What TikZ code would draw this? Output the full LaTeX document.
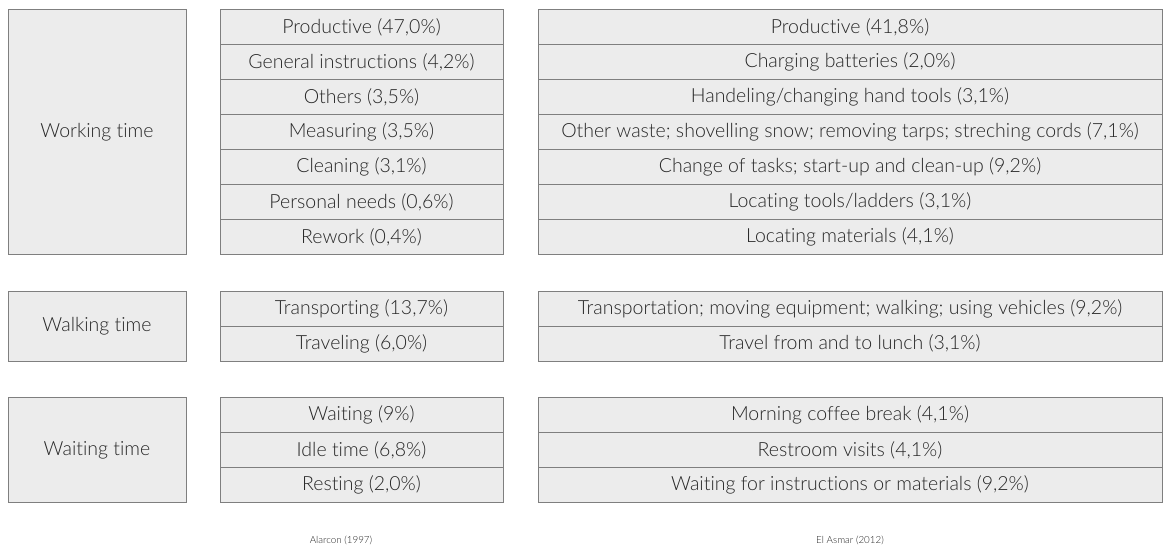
\documentclass[tikz,border=0pt]{standalone}
\usepackage{fontspec}
\setmainfont{Lato}[UprightFont=* Light, Ligatures=NoCommon]
\definecolor{cellgray}{HTML}{ECECEC}
\definecolor{bordergray}{HTML}{7F7F7F}
\definecolor{textgray}{HTML}{262626}
\tikzset{
  cell/.style={draw=bordergray, fill=cellgray, line width=0.9pt, inner sep=0pt,
    font=\fontsize{19.5}{22}\selectfont, text=textgray},
  midcell/.style={cell, minimum width=283pt, minimum height=35pt},
  rightcell/.style={cell, minimum width=624pt, minimum height=35pt},
  leftcell/.style={cell, minimum width=178pt},
  caption/.style={font=\fontsize{9.8}{12}\selectfont, text=textgray}
}
\begin{document}
\begin{tikzpicture}[x=1pt,y=-1pt]
\useasboundingbox (0,0) rectangle (1164,558);
% left group boxes
\node[leftcell, minimum height=245pt] (work) at (97,132) {Working time};
\node[leftcell, minimum height=70pt] (walk) at (97,326) {Walking time};
\node[leftcell, minimum height=105pt] (wait) at (97,450) {Waiting time};
% Alarcon column
\node[midcell] (a1) at (361.5,27) {Productive (47,0\%)};
\node[midcell] (a2) at (361.5,62) {General instructions (4,2\%)};
\node[midcell] (a3) at (361.5,97) {Others (3,5\%)};
\node[midcell] (a4) at (361.5,132) {Measuring (3,5\%)};
\node[midcell] (a5) at (361.5,167) {Cleaning (3,1\%)};
\node[midcell] (a6) at (361.5,202) {Personal needs (0,6\%)};
\node[midcell] (a7) at (361.5,237) {Rework (0,4\%)};
\node[midcell] (a8) at (361.5,308.5) {Transporting (13,7\%)};
\node[midcell] (a9) at (361.5,343.5) {Traveling (6,0\%)};
\node[midcell] (a10) at (361.5,415) {Waiting (9\%)};
\node[midcell] (a11) at (361.5,450) {Idle time (6,8\%)};
\node[midcell] (a12) at (361.5,485) {Resting (2,0\%)};
% El Asmar column
\node[rightcell] (e1) at (850,27) {Productive (41,8\%)};
\node[rightcell] (e2) at (850,62) {Charging batteries (2,0\%)};
\node[rightcell] (e3) at (850,97) {Handeling/changing hand tools (3,1\%)};
\node[rightcell] (e4) at (850,132) {Other waste; shovelling snow; removing tarps; streching cords (7,1\%)};
\node[rightcell] (e5) at (850,167) {Change of tasks; start-up and clean-up (9,2\%)};
\node[rightcell] (e6) at (850,202) {Locating tools/ladders (3,1\%)};
\node[rightcell] (e7) at (850,237) {Locating materials (4,1\%)};
\node[rightcell] (e8) at (850,308.5) {Transportation; moving equipment; walking; using vehicles (9,2\%)};
\node[rightcell] (e9) at (850,343.5) {Travel from and to lunch (3,1\%)};
\node[rightcell] (e10) at (850,415) {Morning coffee break (4,1\%)};
\node[rightcell] (e11) at (850,450) {Restroom visits (4,1\%)};
\node[rightcell] (e12) at (850,485) {Waiting for instructions or materials (9,2\%)};
% captions
\node[caption] (capA) at (341,540) {Alarcon (1997)};
\node[caption] (capE) at (850,540) {El Asmar (2012)};
\end{tikzpicture}
\end{document}
